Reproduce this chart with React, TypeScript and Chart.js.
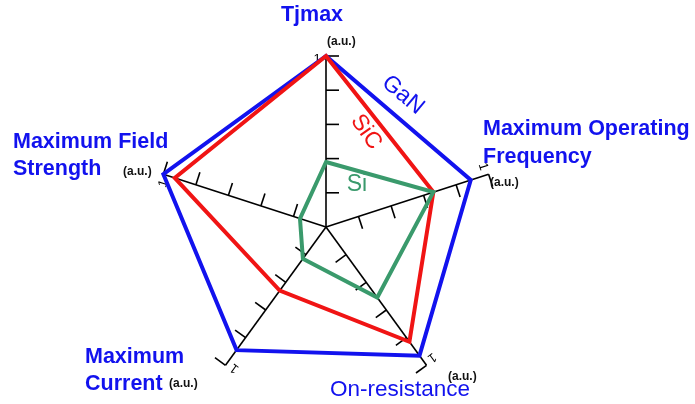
import React, { useEffect, useRef } from "react";
import { Chart, registerables } from "chart.js";

Chart.register(...registerables);

const categories = [
  "Tjmax",
  "Maximum Operating Frequency",
  "On-resistance",
  "Maximum Current",
  "Maximum Field Strength",
];
const ganValues = [1.0, 0.89, 0.93, 0.89, 1.0];
const sicValues = [1.0, 0.66, 0.83, 0.46, 0.93];
const siValues = [0.38, 0.66, 0.51, 0.23, 0.16];
const tickValues = [0.2, 0.4, 0.6, 0.8, 1.0];
const endTickLabel = "1";
const unitLabel = "(a.u.)";

const BLUE = "#1212ee";
const RED = "#f01414";
const GREEN = "#3a9a6c";
const FONT = '"Liberation Sans", Arial, sans-serif';

const decorPlugin = {
  id: "decor",
  beforeDatasetsDraw(chart: any) {
    const ctx = chart.ctx;
    const scale = chart.scales.r;
    ctx.save();
    ctx.strokeStyle = "#000";
    ctx.lineWidth = 1.6;
    for (let i = 0; i < categories.length; i++) {
      for (const v of tickValues) {
        const p = scale.getPointPositionForValue(i, v);
        const dx = Math.cos(p.angle);
        const dy = Math.sin(p.angle);
        ctx.beginPath();
        ctx.moveTo(p.x, p.y);
        ctx.lineTo(p.x - dy * 13, p.y + dx * 13);
        ctx.stroke();
      }
      // "1" label at axis end, on the counter-clockwise side
      const e = scale.getPointPositionForValue(i, 1.0);
      const dx = Math.cos(e.angle);
      const dy = Math.sin(e.angle);
      ctx.save();
      ctx.translate(e.x + dy * 9 - dx * 3, e.y - dx * 9 - dy * 3);
      ctx.rotate(e.angle + Math.PI / 2);
      ctx.fillStyle = "#000";
      ctx.font = `13px ${FONT}`;
      ctx.textAlign = "center";
      ctx.textBaseline = "middle";
      ctx.fillText(endTickLabel, 0, 0);
      ctx.restore();
    }
    ctx.restore();
  },
  afterDraw(chart: any) {
    const ctx = chart.ctx;
    ctx.save();
    // Axis titles
    ctx.fillStyle = BLUE;
    ctx.textBaseline = "middle";
    ctx.font = `bold 21.5px ${FONT}`;
    ctx.textAlign = "center";
    ctx.fillText("Tjmax", 312, 15);
    ctx.textAlign = "left";
    ctx.fillText("Maximum Operating", 483, 129);
    ctx.fillText("Frequency", 483, 157);
    ctx.fillText("Maximum Field", 13, 142);
    ctx.fillText("Strength", 13, 169);
    ctx.fillText("Maximum", 85, 357);
    ctx.fillText("Current", 85, 384);
    ctx.font = `22.5px ${FONT}`;
    ctx.fillText("On-resistance", 330, 390);

    // units
    ctx.fillStyle = "#111";
    ctx.font = `bold 12px ${FONT}`;
    ctx.fillText(unitLabel, 327, 42);
    ctx.fillText(unitLabel, 123, 172);
    ctx.fillText(unitLabel, 490, 183);
    ctx.fillText(unitLabel, 169, 384);
    ctx.fillText(unitLabel, 448, 377);

    // series names
    ctx.font = `23px ${FONT}`;
    ctx.textAlign = "center";
    ctx.save();
    ctx.translate(403, 95);
    ctx.rotate((40 * Math.PI) / 180);
    ctx.fillStyle = BLUE;
    ctx.fillText("GaN", 0, 0);
    ctx.restore();
    ctx.save();
    ctx.translate(366, 132);
    ctx.rotate((55 * Math.PI) / 180);
    ctx.fillStyle = RED;
    ctx.fillText("SiC", 0, 0);
    ctx.restore();
    ctx.fillStyle = GREEN;
    ctx.fillText("Si", 357, 185);
    ctx.restore();
  },
};

export default function App() {
  const canvasRef = useRef<HTMLCanvasElement | null>(null);

  useEffect(() => {
    if (!canvasRef.current) return;
    const mk = (label: string, data: number[], color: string) => ({
      label,
      data,
      borderColor: color,
      backgroundColor: "transparent",
      borderWidth: 4,
      borderJoinStyle: "miter" as const,
      fill: false,
      pointRadius: 0,
      pointHoverRadius: 0,
      tension: 0,
    });
    const chart = new Chart(canvasRef.current, {
      type: "radar",
      data: {
        labels: categories,
        datasets: [
          mk("Si", siValues, GREEN),
          mk("SiC", sicValues, RED),
          mk("GaN", ganValues, BLUE),
        ],
      },
      options: {
        responsive: false,
        animation: false,
        layout: { padding: { top: 56, bottom: 6, left: 152, right: 195 } },
        plugins: { legend: { display: false }, tooltip: { enabled: false } },
        scales: {
          r: {
            min: 0,
            max: 1,
            grid: { display: false },
            angleLines: { display: true, color: "#000", lineWidth: 1.6 },
            ticks: { display: false },
            pointLabels: { display: false },
          },
        },
      },
      plugins: [decorPlugin],
    });
    return () => chart.destroy();
  }, []);

  return (
    <div style={{ position: "absolute", left: 0, top: 0, width: 695, height: 404, background: "#fff" }}>
      <canvas ref={canvasRef} width={695} height={404} style={{ display: "block" }} />
    </div>
  );
}
